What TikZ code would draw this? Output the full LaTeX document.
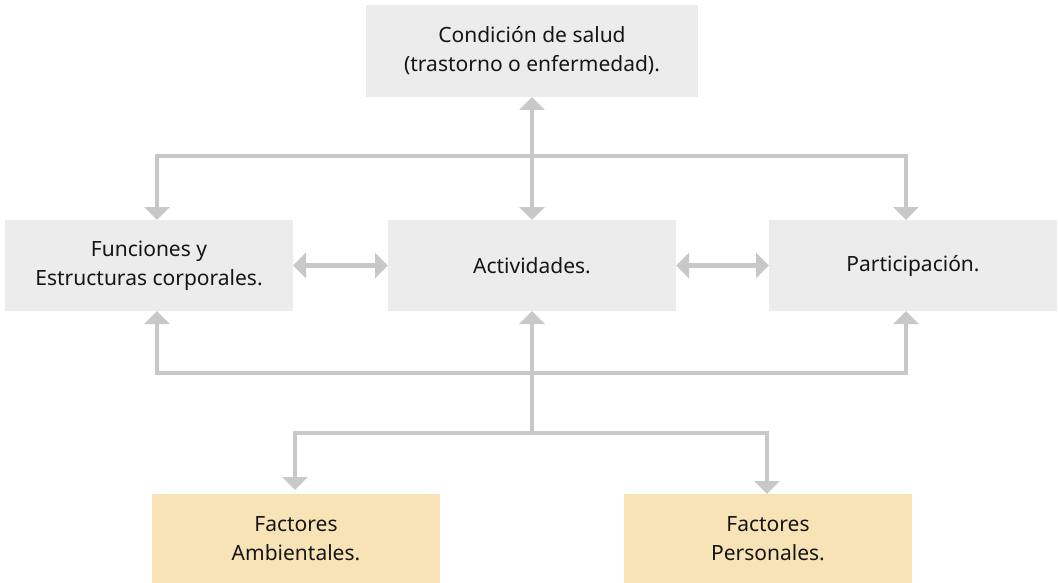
\documentclass[tikz,border=0pt]{standalone}
\usepackage{fontspec}
\setmainfont{Noto Sans}
\usetikzlibrary{arrows.meta}
\definecolor{boxgrey}{HTML}{ECECEC}
\definecolor{boxyellow}{HTML}{F8E3B6}
\definecolor{linegrey}{HTML}{C8C8C8}
\definecolor{txt}{HTML}{161616}
\begin{document}
\begin{tikzpicture}[x=1pt,y=-1pt,
  box/.style={fill=boxgrey, minimum width=288pt, minimum height=91pt, inner sep=0pt, outer sep=0pt, align=center, text=txt, font=\fontsize{21}{29}\selectfont},
  ybox/.style={box, fill=boxyellow, minimum height=89pt},
  conn/.style={draw=linegrey, line width=4.5pt},
  >={Triangle[width=25pt,length=13pt]}]
\useasboundingbox (0,0) rectangle (1058,583);
\node[box, minimum width=332pt, minimum height=92pt] (cond) at (532,51) {Condición de salud\\(trastorno o enfermedad).};
\node[box] (func) at (149,265.5) {Funciones y\\Estructuras corporales.};
\node[box] (act) at (532,265.5) {Actividades.};
\node[box] (part) at (913,265.5) {Participación.};
\node[ybox] (amb) at (296,538.5) {Factores\\Ambientales.};
\node[ybox] (pers) at (768,538.5) {Factores\\Personales.};
\coordinate (tb) at (532,156);
\coordinate (bb) at (532,373);
\coordinate (fb) at (532,433);
\draw[conn,<->] (cond) -- (act);
\draw[conn,<->] ([xshift=8pt]func.north) |- (tb) -| ([xshift=-7pt]part.north);
\draw[conn,<->] (func) -- (act);
\draw[conn,<->] (act) -- (part);
\draw[conn,<->] ([xshift=8pt]func.south) |- (bb) -| ([xshift=-7pt]part.south);
\draw[conn,->] (fb) -- (act.south);
\draw[conn,<->] ([xshift=-1pt,yshift=4pt]amb.north) |- (fb) -| ([xshift=-1pt]pers.north);
\end{tikzpicture}
\end{document}
